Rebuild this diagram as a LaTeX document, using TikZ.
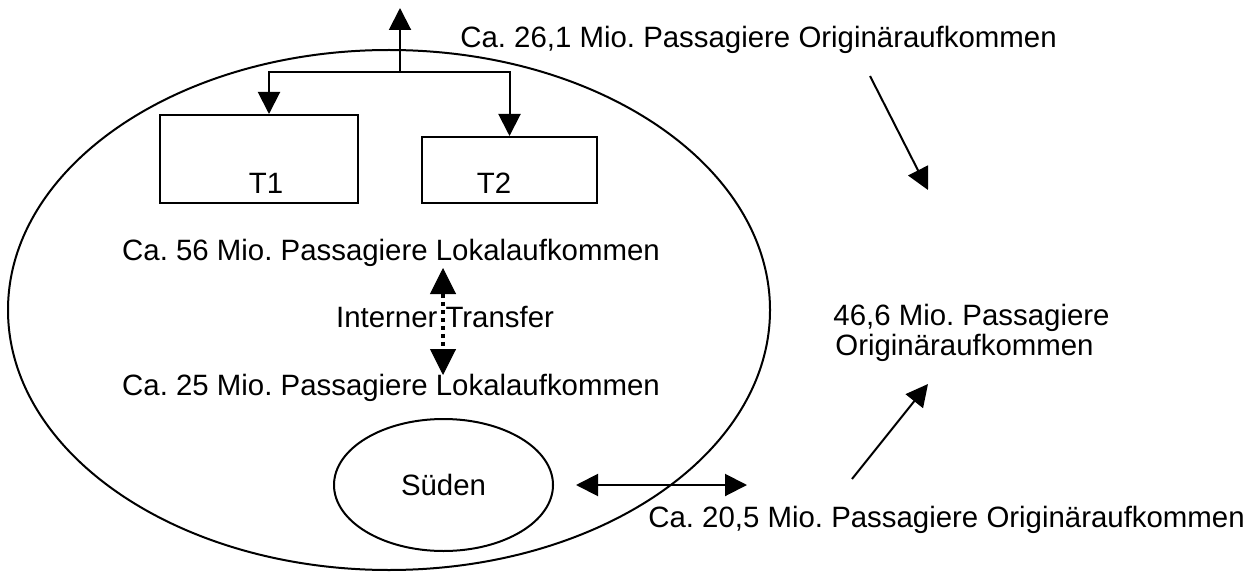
\documentclass[tikz,border=0pt]{standalone}
\usepackage{fontspec}
\setmainfont{Liberation Sans}
\frenchspacing
\usetikzlibrary{arrows.meta}
\usetikzlibrary{shapes.geometric}
\usetikzlibrary{positioning}

\tikzset{
  txt/.style={inner sep=0pt, anchor=base},
  termbox/.style={draw, line width=1pt, inner sep=0pt},
  arr/.style={-{Triangle[length=11pt,width=11pt]}, line width=1pt},
  biarr/.style={{Triangle[length=11pt,width=11pt]}-{Triangle[length=11pt,width=11pt]}, line width=1pt},
  xferarr/.style={{Triangle[length=13pt,width=13pt,line width=0.5pt]}-{Triangle[length=13pt,width=13pt,line width=0.5pt]},
    line width=2pt, dash pattern=on 2pt off 2pt},
}

\begin{document}
\begin{tikzpicture}[x=0.5pt, y=-0.5pt, font=\fontsize{14.7pt}{17pt}\selectfont]
  \useasboundingbox (0, 0) rectangle (1251, 572);

  % airport and terminals
  \node (airport) [ellipse, draw, line width=1pt, minimum width=381pt, minimum height=260pt] at (389, 310) {};
  \node (t1) [termbox, minimum width=99pt, minimum height=44pt] at (259, 159) {};
  \node (t2) [termbox, minimum width=87.5pt, minimum height=33pt] at (509.5, 170) {};
  \node (t1lbl) [txt] at (266, 193) {T1};
  \node (t2lbl) [txt] at (494, 193) {T2};

  \coordinate (split) at (400, 72);
  \coordinate (up) at (400, 8);
  \draw [arr] (split) -- (up);
  \draw [arr] (split) -| ([xshift=5pt]t1.north);
  \draw [arr] (split) -| (t2.north);

  % local traffic
  \node (lokal56) [txt] at (391, 260) {Ca. 56 Mio. Passagiere Lokalaufkommen};
  \node (xfer) [txt] at (445, 327) {Interner Transfer};
  \node (lokal25) [txt] at (391, 395) {Ca. 25 Mio. Passagiere Lokalaufkommen};
  \coordinate (xfertop) at (443, 268);
  \coordinate (xferbot) at (443, 375);
  \draw [xferarr] (xfertop) -- (xferbot);

  % south
  \node (sued) [ellipse, draw, line width=1pt, minimum width=109.5pt, minimum height=66pt] at (443.5, 485) {S\"uden};
  \coordinate (suedout) at (747, 485);
  \draw [biarr] ([xshift=11pt]sued.east) -- (suedout);

  % origin traffic
  \node (orig261) [txt] at (758.5, 48) {Ca. 26,1 Mio. Passagiere Origin\"araufkommen};
  \node (orig205) [txt] at (946.5, 527) {Ca. 20,5 Mio. Passagiere Origin\"araufkommen};
  \node (total) [inner sep=0pt, anchor=north west, align=left,
    font={\fontsize{14.7pt}{14.75pt}\selectfont\lineskiplimit=-20pt}] at (833, 304)
    {46,6 Mio. Passagiere\\\hspace*{1pt}Origin\"araufkommen};

  \coordinate (inA) at (870, 76);
  \coordinate (inAend) at (928, 190);
  \coordinate (inB) at (852, 479);
  \coordinate (inBend) at (928, 384);
  \draw [arr] (inA) -- (inAend);
  \draw [arr] (inB) -- (inBend);
\end{tikzpicture}
\end{document}
